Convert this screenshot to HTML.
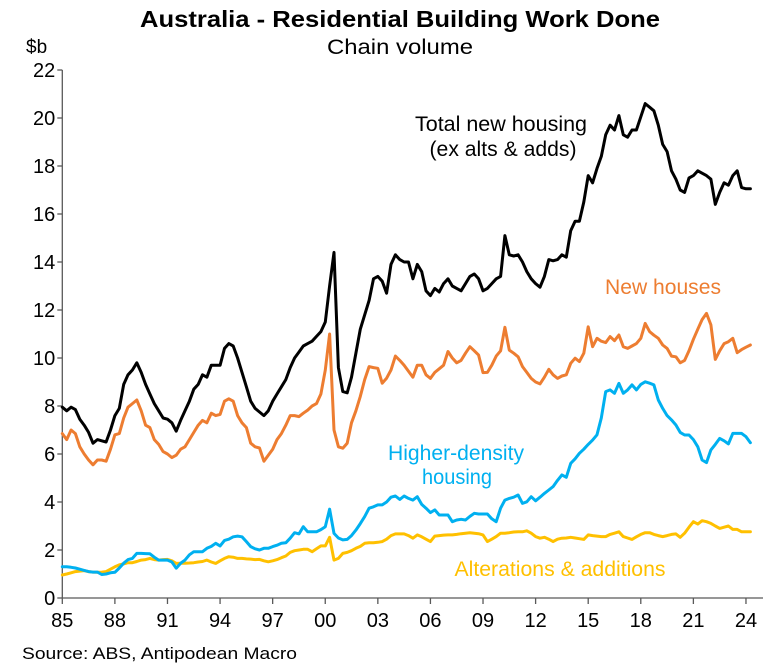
<!DOCTYPE html>
<html><head><meta charset="utf-8"><style>
html,body{margin:0;padding:0;background:#fff;}
svg{display:block;font-family:"Liberation Sans",Arial,sans-serif;}
</style></head><body>
<svg id="chart" width="775" height="671" viewBox="0 0 775 671">
<text x="400" y="27" text-anchor="middle" font-size="23" font-weight="bold" textLength="520" lengthAdjust="spacingAndGlyphs">Australia - Residential Building Work Done</text>
<text x="400" y="54" text-anchor="middle" font-size="21" textLength="146" lengthAdjust="spacingAndGlyphs">Chain volume</text>
<text x="26" y="53" font-size="19">$b</text>
<g id="axes"></g>
<g id="series"></g>
<text x="501" y="131" text-anchor="middle" font-size="21.5" textLength="172" lengthAdjust="spacingAndGlyphs">Total new housing</text>
<text x="503" y="156" text-anchor="middle" font-size="21.5" textLength="147" lengthAdjust="spacingAndGlyphs">(ex alts &amp; adds)</text>
<text x="663" y="294" text-anchor="middle" font-size="21.5" fill="#ED7D31" textLength="116" lengthAdjust="spacingAndGlyphs">New houses</text>
<text x="456" y="460" text-anchor="middle" font-size="21.5" fill="#00B0F0" textLength="136" lengthAdjust="spacingAndGlyphs">Higher-density</text>
<text x="457" y="484" text-anchor="middle" font-size="21.5" fill="#00B0F0" textLength="70" lengthAdjust="spacingAndGlyphs">housing</text>
<text x="560" y="576" text-anchor="middle" font-size="21.5" fill="#FFC000" textLength="211" lengthAdjust="spacingAndGlyphs">Alterations &amp; additions</text>
<text x="22" y="659" font-size="17" textLength="275" lengthAdjust="spacingAndGlyphs">Source: ABS, Antipodean Macro</text>
</svg>
<script>
const startYear = 1985;
const yTicks = [0,2,4,6,8,10,12,14,16,18,20,22];
const xTickYears = [1985,1988,1991,1994,1997,2000,2003,2006,2009,2012,2015,2018,2021,2024];
const xTickLabels = ["85","88","91","94","97","00","03","06","09","12","15","18","21","24"];
const totalNewHousing = [
7.95,7.8,7.95,7.85, 7.45,7.2,6.9,6.45, 6.6,6.55,6.5,7.0, 7.6,7.9,8.9,9.3,
9.5,9.8,9.4,8.9, 8.5,8.1,7.8,7.5, 7.45,7.3,6.95,7.4, 7.8,8.2,8.7,8.9,
9.3,9.2,9.7,9.7, 9.7,10.4,10.6,10.5, 10.0,9.4,8.8,8.2, 7.9,7.75,7.6,7.8,
8.2,8.5,8.8,9.1, 9.6,10.0,10.25,10.5, 10.6,10.7,10.9,11.1, 11.5,13.0,14.4,9.6,
8.6,8.55,9.2,10.2, 11.2,11.8,12.4,13.3, 13.4,13.2,12.7,13.9, 14.3,14.1,14.0,14.0,
13.3,13.9,13.6,12.8, 12.6,12.9,12.75,13.1, 13.3,13.0,12.9,12.8, 13.1,13.4,13.5,13.3,
12.8,12.9,13.1,13.3, 13.4,15.1,14.3,14.25, 14.3,14.0,13.6,13.3, 13.1,12.95,13.4,14.1,
14.05,14.1,14.3,14.2, 15.3,15.7,15.7,16.5, 17.6,17.3,17.9,18.4, 19.3,19.7,19.5,20.1,
19.3,19.2,19.5,19.5, 20.05,20.6,20.45,20.3, 19.7,18.9,18.6,17.8, 17.45,17.0,16.9,17.5,
17.6,17.8,17.7,17.6, 17.45,16.4,16.9,17.3, 17.2,17.6,17.8,17.1, 17.05,17.05];
const newHouses = [
6.85,6.6,7.0,6.85, 6.3,6.0,5.75,5.55, 5.75,5.75,5.7,6.2, 6.8,6.85,7.5,7.95,
8.1,8.25,7.8,7.2, 7.1,6.6,6.4,6.1, 6.0,5.85,5.95,6.2, 6.3,6.6,6.9,7.2,
7.4,7.3,7.7,7.6, 7.65,8.2,8.3,8.2, 7.6,7.3,7.1,6.45, 6.3,6.25,5.7,5.95,
6.2,6.6,6.85,7.2, 7.6,7.6,7.56,7.7, 7.83,8.0,8.1,8.5, 9.5,11.0,7.0,6.3,
6.24,6.45,7.3,7.8, 8.4,9.1,9.64,9.6, 9.57,8.95,9.16,9.5, 10.08,9.9,9.7,9.45,
9.2,9.7,9.7,9.3, 9.15,9.4,9.55,9.7, 10.27,10.0,9.8,9.9, 10.2,10.47,10.3,10.12,
9.39,9.4,9.7,10.08, 10.3,11.28,10.33,10.2, 10.05,9.64,9.4,9.15, 9.0,8.92,9.2,9.53,
9.3,9.15,9.25,9.3, 9.78,9.99,9.85,10.2, 11.3,10.47,10.82,10.7, 10.64,10.89,10.72,10.96,
10.47,10.4,10.5,10.6, 10.82,11.44,11.1,10.95, 10.82,10.54,10.4,10.08, 10.05,9.8,9.9,10.3,
10.78,11.2,11.6,11.86, 11.38,9.94,10.3,10.6, 10.68,10.82,10.22,10.35, 10.45,10.54];
const higherDensity = [
1.3,1.3,1.28,1.25, 1.2,1.15,1.1,1.08, 1.08,0.98,1.0,1.05, 1.07,1.25,1.45,1.6,
1.65,1.86,1.86,1.85, 1.84,1.7,1.58,1.58, 1.58,1.5,1.24,1.45, 1.58,1.8,1.93,1.93,
1.93,2.07,2.15,2.28, 2.17,2.4,2.45,2.55, 2.58,2.55,2.35,2.14, 2.05,2.0,2.07,2.07,
2.14,2.2,2.28,2.3, 2.49,2.72,2.67,2.97, 2.76,2.76,2.76,2.85, 2.97,3.7,2.69,2.5,
2.42,2.44,2.6,2.83, 3.1,3.39,3.74,3.8, 3.88,3.88,4.0,4.2, 4.25,4.11,4.25,4.15,
4.08,4.22,3.9,3.74, 3.56,3.67,3.46,3.46, 3.46,3.18,3.25,3.28, 3.25,3.4,3.53,3.5,
3.5,3.5,3.3,3.18, 3.74,4.08,4.15,4.2, 4.29,3.94,4.01,4.22, 4.05,4.2,4.36,4.5,
4.64,4.9,5.13,5.03, 5.61,5.8,6.03,6.2, 6.4,6.58,6.8,7.5, 8.6,8.67,8.53,8.94,
8.53,8.67,8.88,8.67, 8.9,9.01,8.95,8.88, 8.25,7.9,7.6,7.42, 7.21,6.9,6.79,6.79,
6.6,6.3,5.75,5.64, 6.17,6.4,6.65,6.55, 6.42,6.86,6.86,6.86, 6.72,6.47];
const alterationsAdditions = [
0.96,1.0,1.05,1.1, 1.12,1.14,1.1,1.08, 1.07,1.08,1.1,1.2, 1.3,1.38,1.42,1.47,
1.47,1.52,1.58,1.6, 1.65,1.6,1.58,1.6, 1.61,1.55,1.44,1.45, 1.45,1.46,1.47,1.5,
1.52,1.58,1.5,1.44, 1.55,1.65,1.72,1.7, 1.65,1.65,1.63,1.62, 1.6,1.61,1.55,1.51,
1.55,1.6,1.68,1.75, 1.9,1.97,2.0,2.03, 2.03,1.93,2.05,2.17, 2.17,2.53,1.58,1.65,
1.86,1.9,1.97,2.07, 2.15,2.28,2.3,2.3, 2.32,2.35,2.45,2.6, 2.67,2.67,2.67,2.6,
2.49,2.63,2.55,2.45, 2.35,2.58,2.6,2.62, 2.63,2.63,2.65,2.68, 2.7,2.72,2.7,2.68,
2.63,2.35,2.45,2.56, 2.7,2.7,2.72,2.75, 2.76,2.76,2.8,2.7, 2.56,2.49,2.53,2.45,
2.35,2.45,2.49,2.5, 2.53,2.5,2.47,2.44, 2.63,2.6,2.58,2.56, 2.56,2.65,2.7,2.76,
2.56,2.5,2.44,2.55, 2.65,2.72,2.72,2.65, 2.6,2.56,2.6,2.65, 2.67,2.53,2.7,2.95,
3.18,3.08,3.22,3.18, 3.11,3.0,2.9,2.95, 3.0,2.86,2.86,2.76, 2.76,2.76];

const NS='http://www.w3.org/2000/svg';
const x0=62.3, pxPerYear=17.53, yBase=598, pxPerUnit=24;
function xScale(yr){return x0+(yr-startYear)*pxPerYear;}
function yScale(v){return yBase-v*pxPerUnit;}
function mk(tag,attrs,parent){const e=document.createElementNS(NS,tag);for(const k in attrs)e.setAttribute(k,attrs[k]);parent.appendChild(e);return e;}
const axes=document.getElementById('axes');
const yAxis=mk('line',{x1:x0,y1:yScale(22),x2:x0,y2:yBase,stroke:'#595959','stroke-width':1.3},axes);


yTicks.forEach(v=>{
  const t=mk('line',{x1:x0-5,y1:yScale(v),x2:x0,y2:yScale(v),stroke:'#595959','stroke-width':1.3},axes);
  
  
  const l=mk('text',{x:x0-7,y:yScale(v)+7,'text-anchor':'end','font-size':20},axes);
  l.textContent=v;
  
  
});
const xAxis=mk('line',{x1:x0,y1:yBase,x2:763,y2:yBase,stroke:'#595959','stroke-width':1.3},axes);


xTickYears.forEach((yr,i)=>{
  const t=mk('line',{x1:xScale(yr),y1:yBase,x2:xScale(yr),y2:yBase+6,stroke:'#595959','stroke-width':1.3},axes);
  
  
  const l=mk('text',{x:xScale(yr),y:yBase+29,'text-anchor':'middle','font-size':20},axes);
  l.textContent=xTickLabels[i];
  
  
});
const seriesG=document.getElementById('series');
function drawLine(vals,color,name){
  const pts=vals.map((v,i)=>xScale(startYear+i/4).toFixed(1)+','+yScale(v).toFixed(1)).join(' ');
  const p=mk('polyline',{points:pts,fill:'none',stroke:color,'stroke-width':3,'stroke-linejoin':'round','stroke-linecap':'round'},seriesG);
  
  
}
drawLine(alterationsAdditions,'#FFC000','line-alterations-additions');
drawLine(higherDensity,'#00B0F0','line-higher-density');
drawLine(newHouses,'#ED7D31','line-new-houses');
drawLine(totalNewHousing,'#000000','line-total-new-housing');
</script>
</body></html>
